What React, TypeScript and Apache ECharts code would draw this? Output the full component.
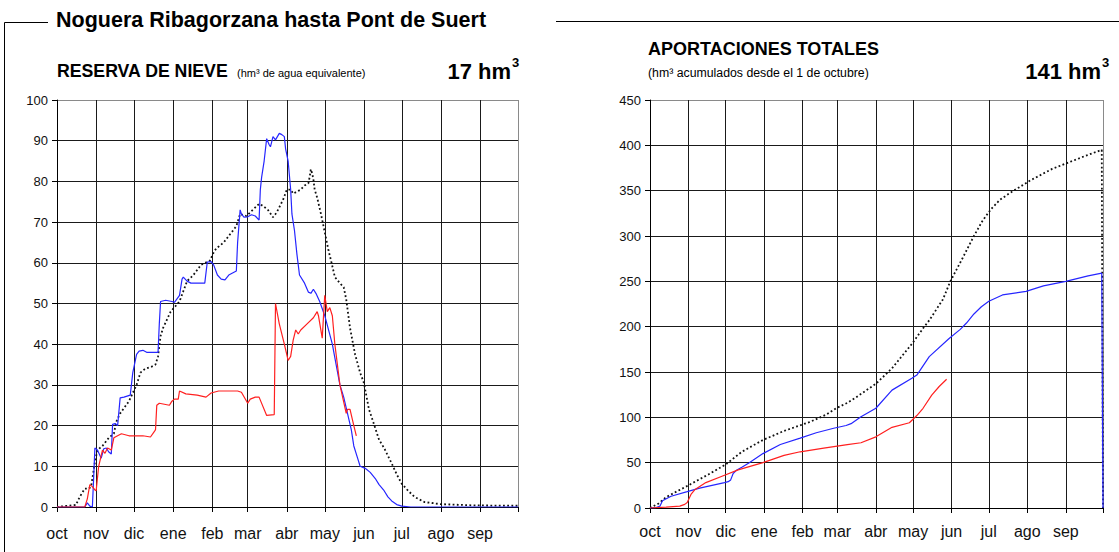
import React, { useEffect, useRef } from "react";
import * as echarts from "echarts";

// ---- categories ----
const MONTHS = ["oct", "nov", "dic", "ene", "feb", "mar", "abr", "may", "jun", "jul", "ago", "sep"];
const MONTH_DAYS = [31, 30, 31, 31, 28, 31, 30, 31, 30, 31, 31, 30];

// ---- y-axis ranges ----
const NIEVE_MAX = 100;
const NIEVE_STEP = 10;
const APOR_MAX = 450;
const APOR_STEP = 50;

// ---- RESERVA DE NIEVE (hm3), [day since 1 Oct, value] ----
const nieveMedia: [number, number][] = [
  [0, 0], [8, 0.3], [15, 0.5], [18, 2.5], [22, 4.5], [25, 4.5], [27, 5], [29, 9], [30, 11], [32, 14], [36, 15],
  [41, 17], [45, 18], [47, 21], [50, 23], [57, 26], [60, 28], [63, 30], [66, 33], [70, 34], [75, 34.5], [78, 35],
  [80, 37], [82, 42], [84, 44], [90, 48], [97, 50.5], [100, 53], [103, 55.5], [108, 57], [114, 59.5], [121, 60.5],
  [124, 62.5], [126, 63.5], [132, 65], [137, 67], [142, 69], [145, 72], [150, 71.5], [155, 73], [160, 74.5],
  [163, 74], [167, 73], [171, 71.2], [173, 72], [175, 73], [179, 75.5], [182, 78], [185, 78], [187, 77], [190, 77.5],
  [193, 78], [196, 79], [199, 79.5], [200, 81], [201, 83], [202, 82], [203, 80.5], [204, 78], [206, 76], [209, 72],
  [212, 67.5], [215, 63], [217, 60.5], [220, 56.5], [224, 55], [227, 54], [229, 51], [232, 44], [236, 37.5],
  [240, 33], [243, 30.5], [247, 24], [251, 20.3], [255, 16.5], [259, 14.5], [265, 10.7], [269, 8], [273, 5.7],
  [278, 4], [283, 2.5], [291, 1.2], [304, 0.7], [330, 0.4], [365, 0.3],
];
const nieveAnterior: [number, number][] = [
  [0, 0], [22, 0], [24, 1], [26, 0.2], [28, 0], [29, 7], [30, 14.5], [32, 14], [35, 12], [37, 14.3], [39, 14.5],
  [41, 13.5], [43, 13], [44, 20.3], [46, 20.5], [48, 20], [50, 26.8], [53, 27], [58, 27.5], [60, 33], [61, 34.5],
  [63, 37.5], [65, 38.3], [68, 38.5], [71, 38], [80, 38], [81, 45], [82, 50.5], [86, 50.8], [91, 50.5], [93, 50.3],
  [97, 52], [99, 56], [100, 56.5], [103, 55.5], [106, 55], [117, 55], [119, 60.2], [122, 60.3], [124, 59.5],
  [127, 57], [130, 56], [133, 55.8], [136, 57], [139, 57.5], [142, 58], [143, 65], [145, 73], [146, 72], [148, 71.2],
  [151, 71.3], [154, 71.8], [157, 71.5], [160, 70.5], [161, 78], [162, 81], [164, 85], [166, 90.5], [168, 89],
  [169, 88.5], [171, 91], [173, 90.2], [176, 91.8], [178, 91.5], [180, 91], [181, 88], [183, 85], [185, 78],
  [186, 72], [188, 68], [190, 62], [192, 57], [196, 55], [199, 52.8], [201, 52.5], [203, 53.5], [205, 52.5],
  [208, 50.5], [212, 47], [215, 43.5], [218, 40], [221, 35], [224, 30], [227, 27], [230, 23], [233, 19], [235, 15],
  [238, 12], [240, 10], [244, 9.5], [248, 8.5], [252, 7], [255, 5.5], [259, 4], [262, 2.5], [265, 1.5], [269, 0.6],
  [273, 0.2], [280, 0], [365, 0],
];
const nieveActual: [number, number][] = [
  [0, 0], [22, 0], [24, 2], [26, 5.5], [28, 5], [30, 4.2], [31, 4], [33, 10], [36, 14], [38, 13.2], [40, 14.5],
  [43, 14], [45, 17], [48, 17.5], [51, 18], [57, 17.5], [68, 17.5], [74, 17.2], [77, 18.5], [78, 19], [79, 25],
  [81, 25.5], [89, 25], [91, 26], [93, 26.5], [96, 26.5], [97, 28.5], [102, 27.8], [111, 27.5], [118, 27], [122, 28],
  [128, 28.5], [143, 28.5], [146, 28.2], [151, 25.5], [153, 26.5], [157, 27], [160, 27], [166, 22.5], [172, 22.7],
  [173, 50], [176, 45], [180, 40], [183, 36], [185, 37], [187, 41], [189, 43.5], [191, 42.5], [193, 43.5], [198, 45],
  [203, 46.5], [206, 48], [207, 47], [210, 41.5], [212, 52], [214, 48], [216, 49], [218, 47], [220, 40], [224, 30],
  [229, 23], [230, 24], [232, 24], [235, 20], [237, 17.5],
];

// ---- APORTACIONES TOTALES (hm3 acumulados), [day since 1 Oct, value] ----
const aporMedia: [number, number][] = [
  [0, 0], [7, 5], [13, 12], [24, 20], [31, 25], [47, 37], [61, 48], [74, 62], [91, 75], [108, 85], [129, 95],
  [142, 103], [150, 110], [159, 116], [166, 122], [182, 137], [195, 154], [211, 181], [221, 200], [225, 207],
  [236, 230], [242, 250], [252, 276], [261, 300], [268, 317], [275, 330], [282, 340], [289, 346.5], [306, 361],
  [324, 374], [338, 381.5], [352, 389], [364, 395], [365, 0],
];
const aporAnterior: [number, number][] = [
  [0, 0], [5, 0.5], [8, 2], [10, 8], [17, 13], [30, 18], [40, 22], [50, 25], [60, 28], [63, 29], [65, 31], [67, 38],
  [70, 42], [74, 45], [80, 50], [91, 60], [105, 70], [121, 77], [134, 83], [148, 88], [158, 91], [162, 93],
  [170, 100.6], [182, 110], [195, 130], [211, 143], [215, 146.6], [225, 167], [241, 187], [250, 197], [255, 204],
  [261, 214], [267, 222], [273, 228], [284, 235], [303, 239], [317, 245], [335, 250], [353, 256], [364, 259],
  [365, 0],
];
const aporActual: [number, number][] = [
  [0, 0], [13, 1], [24, 2], [28, 4], [30, 6], [33, 15], [36, 20], [45, 28], [58, 35], [71, 42], [91, 50], [108, 58],
  [121, 62], [140, 66], [159, 70], [170, 72], [182, 78.5], [195, 89], [209, 94], [215, 102], [220, 110],
  [227, 124.5], [233, 134], [239, 142],
];

const MONTH_STARTS: number[] = MONTH_DAYS.reduce<number[]>((acc, d, i) => {
  acc.push(i === 0 ? 0 : acc[i - 1] + MONTH_DAYS[i - 1]);
  return acc;
}, []);
const YEAR_DAYS = MONTH_DAYS.reduce((a, b) => a + b, 0);
const DAYS = Array.from({ length: YEAR_DAYS + 1 }, (_, i) => String(i));

const FONT = "'Liberation Sans', Arial, Helvetica, sans-serif";
const GRID_DARK = "#1a1a1a";
const GRID_EDGE = "#8a8a8a";

const isStart = (i: number) => MONTH_STARTS.indexOf(i) >= 0;
const isLine = (i: number) => isStart(i) || i === YEAR_DAYS;

function xAxisFor(gridIndex: number, labelMargin: number) {
  const colors = [...Array(MONTH_STARTS.length).fill(GRID_DARK), GRID_EDGE];
  return {
    type: "category",
    gridIndex,
    data: DAYS,
    boundaryGap: false,
    axisLine: { show: true, lineStyle: { color: "#000", width: 1 } },
    axisTick: { show: true, interval: (i: number) => isLine(i), length: 5, lineStyle: { color: "#000" } },
    axisLabel: {
      interval: (i: number) => isStart(i),
      formatter: (v: string) => MONTHS[MONTH_STARTS.indexOf(Number(v))] ?? "",
      fontFamily: FONT,
      fontSize: 16,
      color: "#111",
      margin: labelMargin,
    },
    splitLine: { show: true, interval: (i: number) => isLine(i), lineStyle: { color: colors, width: 1 } },
  };
}

function yAxisFor(gridIndex: number, max: number, step: number) {
  const n = Math.round(max / step);
  const colors = [...Array(n).fill(GRID_DARK), GRID_EDGE];
  return {
    type: "value",
    gridIndex,
    min: 0,
    max,
    interval: step,
    axisLine: { show: true, lineStyle: { color: "#000", width: 1 } },
    axisTick: { show: true, length: 5, lineStyle: { color: "#000" } },
    axisLabel: { fontFamily: FONT, fontSize: 13, color: "#111", margin: 9 },
    splitLine: { show: true, lineStyle: { color: colors, width: 1 } },
  };
}

function lineSeries(name: string, data: [number, number][], idx: number, kind: "media" | "anterior" | "actual") {
  const style =
    kind === "media"
      ? { color: "#111", width: 1.8, type: [1.8, 2.4] }
      : kind === "anterior"
      ? { color: "#2626ff", width: 1.2, type: "solid" }
      : { color: "#ff2020", width: 1.2, type: "solid" };
  return {
    name,
    type: "line",
    xAxisIndex: idx,
    yAxisIndex: idx,
    data,
    showSymbol: false,
    symbol: "none",
    smooth: false,
    lineStyle: style,
    itemStyle: { color: style.color },
    z: kind === "media" ? 3 : kind === "anterior" ? 4 : 5,
  };
}

export default function App() {
  const ref = useRef<HTMLDivElement>(null);

  useEffect(() => {
    if (!ref.current) return;
    const chart = echarts.init(ref.current, undefined, { renderer: "svg" });
    const option: any = {
      animation: false,
      backgroundColor: "#fff",
      textStyle: { fontFamily: FONT },
      grid: [
        { left: 57, top: 100, width: 461, height: 407 },
        { left: 650, top: 100, width: 453, height: 408 },
      ],
      xAxis: [xAxisFor(0, 18), xAxisFor(1, 15)],
      yAxis: [yAxisFor(0, NIEVE_MAX, NIEVE_STEP), yAxisFor(1, APOR_MAX, APOR_STEP)],
      series: [
        lineSeries("Media", nieveMedia, 0, "media"),
        lineSeries("Año anterior", nieveAnterior, 0, "anterior"),
        lineSeries("Año actual", nieveActual, 0, "actual"),
        lineSeries("Media", aporMedia, 1, "media"),
        lineSeries("Año anterior", aporAnterior, 1, "anterior"),
        lineSeries("Año actual", aporActual, 1, "actual"),
      ],
      graphic: [
        {
          type: "polyline",
          shape: { points: [[4.5, 552], [4.5, 22.5], [48, 22.5]] },
          style: { stroke: "#000", lineWidth: 1, fill: "none" },
        },
        {
          type: "line",
          shape: { x1: 556, y1: 21.5, x2: 1119, y2: 21.5 },
          style: { stroke: "#000", lineWidth: 1 },
        },
        {
          type: "text",
          x: 56,
          y: 20,
          style: {
            text: "Noguera Ribagorzana hasta Pont de Suert",
            font: `bold 21.5px ${FONT}`,
            fill: "#000",
            verticalAlign: "middle",
          },
        },
        {
          type: "text",
          x: 57,
          y: 71,
          style: { text: "RESERVA DE NIEVE", font: `bold 17.7px ${FONT}`, fill: "#000", verticalAlign: "middle" },
        },
        {
          type: "text",
          x: 237,
          y: 73,
          style: { text: "(hm³ de agua equivalente)", font: `11px ${FONT}`, fill: "#000", verticalAlign: "middle" },
        },
        {
          type: "text",
          x: 511,
          y: 71,
          style: { text: "17 hm", font: `bold 22px ${FONT}`, fill: "#000", align: "right", verticalAlign: "middle" },
        },
        {
          type: "text",
          x: 512,
          y: 62,
          style: { text: "3", font: `bold 13px ${FONT}`, fill: "#000", align: "left", verticalAlign: "middle" },
        },
        {
          type: "text",
          x: 648,
          y: 49,
          style: { text: "APORTACIONES TOTALES", font: `bold 18px ${FONT}`, fill: "#000", verticalAlign: "middle" },
        },
        {
          type: "text",
          x: 648,
          y: 73,
          style: {
            text: "(hm³ acumulados desde el 1 de octubre)",
            font: `12.3px ${FONT}`,
            fill: "#000",
            verticalAlign: "middle",
          },
        },
        {
          type: "text",
          x: 1101,
          y: 71,
          style: { text: "141 hm", font: `bold 22px ${FONT}`, fill: "#000", align: "right", verticalAlign: "middle" },
        },
        {
          type: "text",
          x: 1102,
          y: 62,
          style: { text: "3", font: `bold 13px ${FONT}`, fill: "#000", align: "left", verticalAlign: "middle" },
        },
      ],
    };
    chart.setOption(option);
    return () => chart.dispose();
  }, []);

  return (
    <div
      ref={ref}
      style={{ position: "absolute", left: 0, top: 0, width: 1119, height: 552, background: "#fff" }}
    />
  );
}
